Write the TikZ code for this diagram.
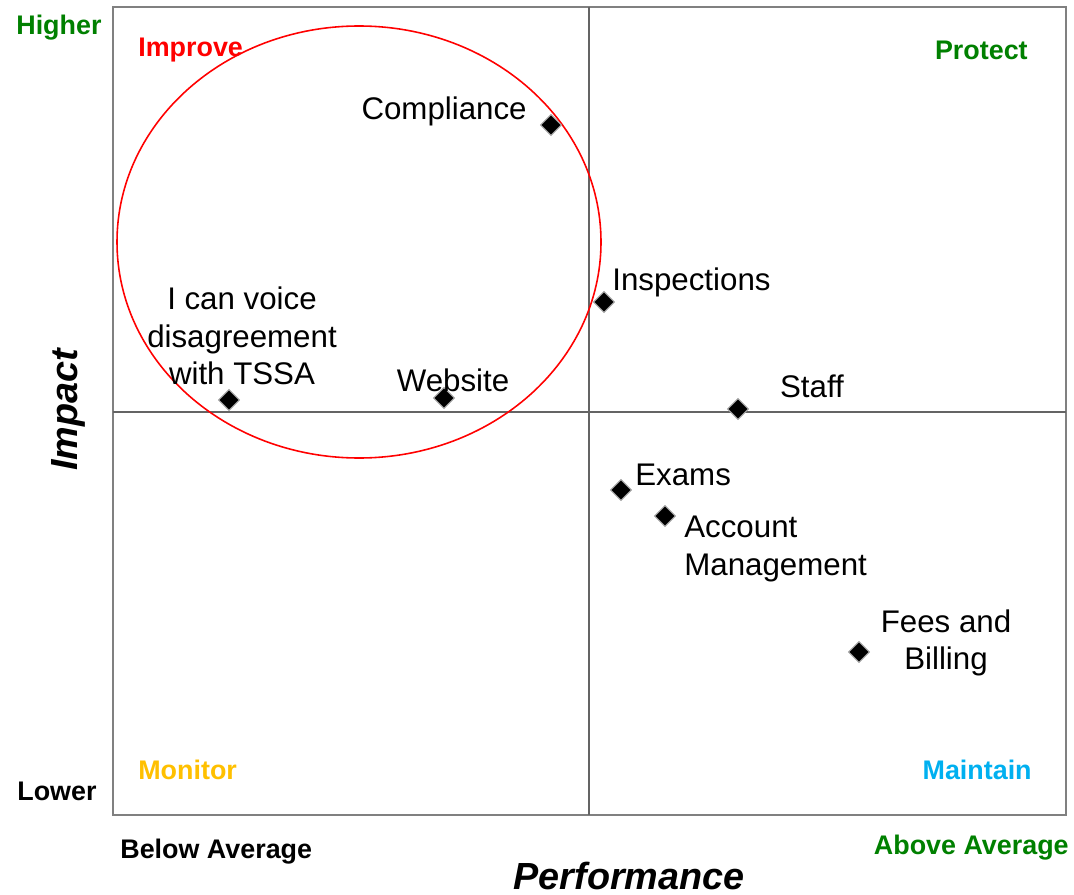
\documentclass[tikz,border=0pt]{standalone}
\usepackage{fontspec}
\setmainfont{Liberation Sans}
\usetikzlibrary{shapes.geometric, positioning}
\definecolor{quadgreen}{RGB}{0, 128, 0}
\definecolor{quadred}{RGB}{255, 0, 0}
\definecolor{quadgold}{RGB}{255, 192, 0}
\definecolor{quadblue}{RGB}{0, 176, 240}
\definecolor{framegray}{RGB}{128, 128, 128}
\definecolor{midgray}{RGB}{100, 100, 100}

\begin{document}
\begin{tikzpicture}[
  x=0.02cm, y=-0.02cm,
  point/.style={diamond, fill=black, draw=gray!70, line width=0.6pt, minimum size=0.42cm, inner sep=0pt},
  itemlabel/.style={font=\fontsize{17.8}{21.5}\selectfont, inner sep=0pt, align=center},
  quadlabel/.style={font=\fontsize{15.3}{18}\selectfont\bfseries, inner sep=0pt},
  axislabel/.style={font=\fontsize{21.5}{25}\selectfont\bfseries\itshape, inner sep=0pt}
]
  \useasboundingbox (0,0) rectangle (1074,895);

  % Plot frame and quadrant lines
  \draw[framegray, line width=1.2pt] (113,7) rectangle (1066,815);
  \draw[midgray, line width=0.6pt] (589,7) -- (589,815);
  \draw[midgray, line width=0.6pt] (113,412) -- (1066,412);

  % Improvement area
  \draw[quadred, line width=0.9pt] (359,242) ellipse [x radius=242, y radius=216];

  % Quadrant names
  \node[quadlabel, text=quadred, anchor=west] (improve) at (138,50) {Improve};
  \node[quadlabel, text=quadgreen, anchor=east] (protect) at (1028,50) {Protect};
  \node[quadlabel, text=quadgold, anchor=west] (monitor) at (138,770) {Monitor};
  \node[quadlabel, text=quadblue, anchor=east] (maintain) at (1032,770) {Maintain};

  % Axis ends
  \node[quadlabel, text=quadgreen, anchor=west] (higher) at (16,28) {Higher};
  \node[quadlabel, anchor=west] (lower) at (17,791) {Lower};
  \node[quadlabel, anchor=west] (below) at (120,852) {Below Average};
  \node[quadlabel, text=quadgreen, anchor=east] (above) at (1069,848) {Above Average};
  \node[axislabel, rotate=90] (impact) at (68,410) {Impact};
  \node[axislabel] (perf) at (629,876) {Performance};

  % Attributes
  \node[point] (compl) at (551,125) {};
  \node[itemlabel, anchor=east] (compl-lbl) at (527,111) {Compliance};

  \node[point] (insp) at (604,302) {};
  \node[itemlabel, anchor=west] (insp-lbl) at (612,282) {Inspections};

  \node[point] (voice) at (229,400) {};
  \node[itemlabel] (voice-lbl) at (242,336) {I can voice\\disagreement\\with TSSA};

  \node[point] (web) at (444,398) {};
  \node[itemlabel] (web-lbl) at (453,380) {Website};

  \node[point] (staff) at (738,409) {};
  \node[itemlabel] (staff-lbl) at (812,386) {Staff};

  \node[point] (exams) at (621,490) {};
  \node[itemlabel, anchor=west] (exams-lbl) at (635,475) {Exams};

  \node[point] (acct) at (665,516) {};
  \node[itemlabel, anchor=west, align=left] (acct-lbl) at (684,549) {Account\\Management};

  \node[point] (fees) at (859,652) {};
  \node[itemlabel] (fees-lbl) at (946,643) {Fees and\\Billing};
\end{tikzpicture}
\end{document}
